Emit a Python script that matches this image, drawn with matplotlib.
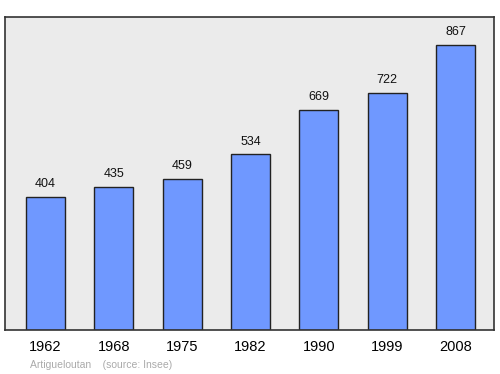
import matplotlib
matplotlib.use("Agg")
import matplotlib.pyplot as plt

plt.rcParams["font.family"] = ["Liberation Sans", "DejaVu Sans"]

annees = ["1962", "1968", "1975", "1982", "1990", "1999", "2008"]
population = [404, 435, 459, 534, 669, 722, 867]

fig = plt.figure(figsize=(5, 3.74), dpi=100)
ax = fig.add_axes([0.01, 0.1176, 0.978, 0.837])
ax.set_facecolor("#ebebeb")

pos = range(len(annees))
ax.bar(pos, population, width=0.57, color="#6f98ff", edgecolor="#222222", linewidth=1.0)
for x, v in zip(pos, population):
    ax.annotate(str(v), (x, v), xytext=(0, 7), textcoords="offset points",
                ha="center", va="baseline", fontsize=9, color="#111111")

ax.set_xlim(-0.59, 6.56)
ax.set_ylim(0, 952)
ax.set_xticks(list(pos))
ax.set_xticklabels(annees, fontsize=10.5)
ax.tick_params(axis="x", length=0, pad=7)
ax.set_yticks([])
for s in ax.spines.values():
    s.set_color("#333333")
    s.set_linewidth(1.2)

fig.text(0.06, 0.016, "Artigueloutan    (source: Insee)", fontsize=7.5, color="#aaaaaa")

fig.savefig("out.png", dpi=100)
